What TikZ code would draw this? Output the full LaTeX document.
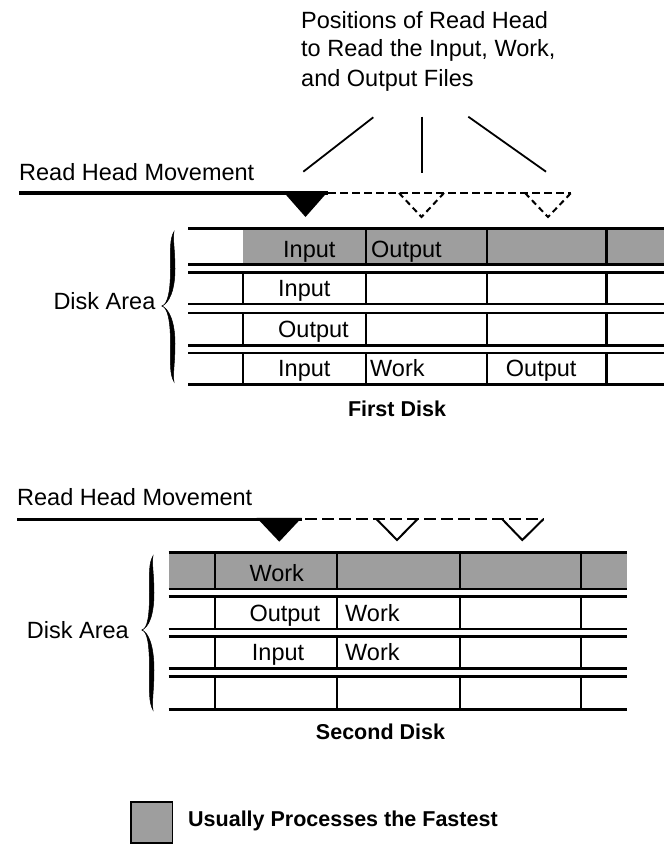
\documentclass[tikz,border=0pt]{standalone}
\usepackage{fontspec}
\setmainfont{Liberation Sans}
\usetikzlibrary{calc}
\newcommand\diskbrace[5]{% #1 right x, #2 top y, #3 tip y, #4 bottom y, #5 tip x
  \filldraw[line width=0.5pt] (#1,#2) .. controls ({#1-4.5},{#2+0.1*(#3-#2)}) and ({#1-3.5},{#2+0.25*(#3-#2)}) .. ({#1-3.5},{#2+0.5*(#3-#2)})
    .. controls ({#1-3.5},{#2+0.8*(#3-#2)}) and ({#5+6},{#3-1}) .. (#5,#3)
    .. controls ({#5+7},{#3-2.5}) and ({#1+1},{#2+0.8*(#3-#2)}) .. ({#1+1},{#2+0.5*(#3-#2)})
    .. controls ({#1+1},{#2+0.25*(#3-#2)}) and ({#1-1.5},{#2+0.08*(#3-#2)}) .. (#1,#2) -- cycle;
  \filldraw[line width=0.5pt] (#5,#3) .. controls ({#5+6},{#3+1}) and ({#1-3.5},{#3+0.2*(#4-#3)}) .. ({#1-3.5},{#3+0.5*(#4-#3)})
    .. controls ({#1-3.5},{#3+0.75*(#4-#3)}) and ({#1-4.5},{#3+0.9*(#4-#3)}) .. (#1,#4)
    .. controls ({#1-1.5},{#3+0.92*(#4-#3)}) and ({#1+1},{#3+0.75*(#4-#3)}) .. ({#1+1},{#3+0.5*(#4-#3)})
    .. controls ({#1+1},{#3+0.2*(#4-#3)}) and ({#5+7},{#3+2.5}) .. (#5,#3) -- cycle;
}
\tikzset{
  lbl/.style={anchor=base west, inner sep=0pt, font=\fontsize{23.5}{29}\selectfont},
  boldlbl/.style={anchor=base, inner sep=0pt, font=\fontsize{21.5}{26}\selectfont\bfseries},
  trackline/.style={line width=2.8pt},
  divider/.style={line width=2.2pt},
  shade/.style={fill=black!38},
  headline/.style={line width=3.2pt},
  dashlineA/.style={line width=2pt, dash pattern=on 8pt off 4pt},
  dashlineB/.style={line width=2pt, dash pattern=on 12pt off 5pt},
  pointer/.style={line width=1.8pt},
}
\begin{document}
\begin{tikzpicture}[x=1pt,y=-1pt]
\useasboundingbox (0,0) rectangle (664,845);

% ---------- title and pointers ----------
\node[lbl] (title1) at (301,28.3) {Positions of Read Head};
\node[lbl] (title2) at (301,57) {to Read the Input, Work,};
\node[lbl] (title3) at (301,86.5) {and Output Files};
\coordinate (pA1) at (373.3,117.3); \coordinate (pA2) at (303.3,171.7);
\coordinate (pB1) at (421.7,116.7); \coordinate (pB2) at (421.7,173.3);
\coordinate (pC1) at (468.3,116.7); \coordinate (pC2) at (546,171.7);
\draw[pointer] (pA1) -- (pA2);
\draw[pointer] (pB1) -- (pB2);
\draw[pointer] (pC1) -- (pC2);

% ---------- first read head ----------
\node[lbl] (rhm1) at (19,181) {Read Head Movement};
\coordinate (h1s) at (19,193); \coordinate (h1e) at (328,193);
\draw[headline] (h1s) -- (h1e);
\fill (283,191.5) -- (328,191.5) -- (305.5,217) -- cycle;
\coordinate (d1s) at (328,193); \coordinate (d1e) at (571,193);
\draw[dashlineA] (d1s) -- (d1e);
\draw[dashlineA, dash pattern=on 6pt off 4pt] (399,193) -- (421.5,217) -- (444,193);
\draw[dashlineA, dash pattern=on 6pt off 4pt] (525,193) -- (548,217) -- (571,193);

% ---------- first disk ----------
\fill[shade] (243,228.5) rectangle (664,264.5);
\foreach \y in {228.5,264.5,272.5,304,313,345.5,353,384.5}
  \draw[trackline] (188,\y) -- (664,\y);
\foreach \x in {366,487,606.5}
  \draw[divider] (\x,228.5) -- (\x,264.5);
\foreach \x in {243,366,487,606.5}{
  \draw[divider] (\x,272.5) -- (\x,304);
  \draw[divider] (\x,313) -- (\x,345.5);
  \draw[divider] (\x,353) -- (\x,384.5);
}
\node[lbl] (f11) at (283,257) {Input};
\node[lbl] (f12) at (371,257) {Output};
\node[lbl] (f21) at (278,296) {Input};
\node[lbl] (f31) at (278,337.5) {Output};
\node[lbl] (f41) at (278,376.5) {Input};
\node[lbl] (f42) at (370,376.5) {Work};
\node[lbl] (f43) at (505.7,376.5) {Output};
\node[lbl] (da1) at (53.3,309.3) {Disk Area};
\diskbrace{174}{231.7}{306}{381.7}{161.7}
\node[boldlbl] (fd) at (397,416.7) {First Disk};

% ---------- second read head ----------
\node[lbl] (rhm2) at (17,505) {Read Head Movement};
\coordinate (h2s) at (17,519.3); \coordinate (h2e) at (301.7,519.3);
\draw[headline] (h2s) -- (h2e);
\fill (256.7,517.8) -- (301.7,517.8) -- (279.3,541.7) -- cycle;
\coordinate (d2s) at (305,519.3); \coordinate (d2e) at (543.3,519.3);
\draw[dashlineB] (d2s) -- (d2e);
\draw[line width=2pt] (376.7,519.3) -- (397,540) -- (417.3,519.3);
\draw[line width=2pt] (502.3,519.3) -- (522.3,540) -- (543.3,519.3);

% ---------- second disk ----------
\fill[shade] (168.5,552.7) rectangle (627,589);
\foreach \y in {552.7,589,596.7,629,636.7,668.5,676.5,709.5}
  \draw[trackline] (168.5,\y) -- (627,\y);
\foreach \x in {215,337.3,460.3,581}{
  \draw[divider] (\x,552.7) -- (\x,589);
  \draw[divider] (\x,596.7) -- (\x,629);
  \draw[divider] (\x,636.7) -- (\x,668.5);
  \draw[divider] (\x,676.5) -- (\x,709.5);
}
\node[lbl] (s11) at (249.3,581) {Work};
\node[lbl] (s21) at (249.3,621) {Output};
\node[lbl] (s22) at (345,621) {Work};
\node[lbl] (s31) at (251.7,660.5) {Input};
\node[lbl] (s32) at (345,660.5) {Work};
\node[lbl] (da2) at (26.7,638.3) {Disk Area};
\diskbrace{153}{556}{630}{710}{141.7}
\node[boldlbl] (sd) at (380.5,739.3) {Second Disk};

% ---------- legend ----------
\filldraw[shade, line width=1.2pt] (131,802) rectangle (172.7,843);
\node[boldlbl, anchor=base west] (leg) at (188,826.7) {Usually Processes the Fastest};
\end{tikzpicture}
\end{document}
